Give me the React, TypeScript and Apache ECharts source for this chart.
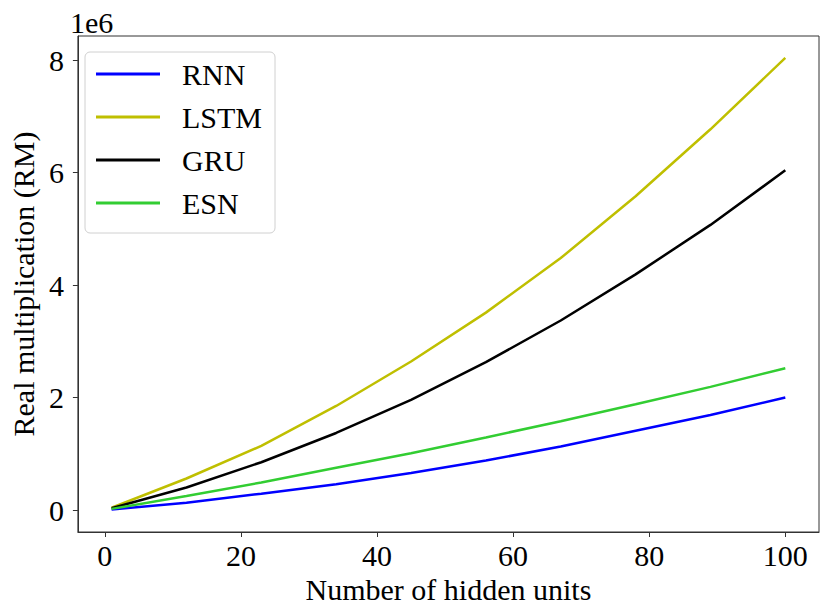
import React, { useEffect, useRef } from "react";
import * as echarts from "echarts";

const hiddenUnits = [1, 12, 23, 34, 45, 56, 67, 78, 89, 100];
const rnnValues = [10000, 130000, 290000, 460000, 660000, 880000, 1130000, 1410000, 1690000, 2000000];
const lstmValues = [40000, 560000, 1140000, 1850000, 2640000, 3510000, 4480000, 5580000, 6770000, 8040000];
const gruValues = [30000, 400000, 850000, 1370000, 1960000, 2630000, 3370000, 4190000, 5070000, 6040000];
const esnValues = [20000, 250000, 490000, 750000, 1010000, 1290000, 1580000, 1880000, 2190000, 2520000];
const xTicks = [0, 20, 40, 60, 80, 100];
const yTicks = [0, 2000000, 4000000, 6000000, 8000000];
const seriesNames = ["RNN", "LSTM", "GRU", "ESN"];
const seriesColors = ["#0000ff", "#bfbf00", "#000000", "#32cd32"];

const FONT = "'Liberation Serif', 'Times New Roman', Times, serif";

export default function App() {
  const ref = useRef<HTMLDivElement>(null);
  useEffect(() => {
    if (!ref.current) return;
    const chart = echarts.init(ref.current, undefined, { renderer: "svg" });
    const all = [rnnValues, lstmValues, gruValues, esnValues];
    const option: any = {
      animation: false,
      backgroundColor: "#ffffff",
      textStyle: { fontFamily: FONT },
      grid: {
        left: 70,
        top: 36,
        width: 749,
        height: 496,
        show: true,
        borderColor: "#333333",
        borderWidth: 1,
        backgroundColor: "transparent",
        containLabel: false,
      },
      xAxis: {
        type: "value",
        min: -3.95,
        max: 104.95,
        name: "Number of hidden units",
        nameLocation: "middle",
        nameGap: 40,
        nameTextStyle: { fontFamily: FONT, fontSize: 30, color: "#000" },
        axisLine: { show: true, onZero: false, lineStyle: { color: "#333333", width: 1 } },
        splitLine: { show: false },
        axisTick: {
          show: true,
          inside: false,
          customValues: xTicks,
          length: 5,
          lineStyle: { color: "#333333", width: 1 },
        },
        axisLabel: {
          customValues: xTicks,
          fontFamily: FONT,
          fontSize: 30,
          color: "#000",
          margin: 8,
        },
      },
      yAxis: {
        type: "value",
        min: -391000,
        max: 8429000,
        name: "Real multiplication (RM)",
        nameLocation: "middle",
        nameGap: 34,
        nameTextStyle: { fontFamily: FONT, fontSize: 30, color: "#000" },
        axisLine: { show: true, onZero: false, lineStyle: { color: "#333333", width: 1 } },
        splitLine: { show: false },
        axisTick: {
          show: true,
          inside: false,
          customValues: yTicks,
          length: 5,
          lineStyle: { color: "#333333", width: 1 },
        },
        axisLabel: {
          customValues: yTicks,
          fontFamily: FONT,
          fontSize: 30,
          color: "#000",
          margin: 14,
          formatter: (v: number) => String(Math.round(v / 1000000)),
        },
      },
      legend: {
        show: true,
        orient: "vertical",
        left: 85,
        top: 52,
        data: seriesNames,
        icon: "rect",
        itemWidth: 64,
        itemHeight: 3,
        itemGap: 11,
        padding: [6, 13, 14, 11],
        backgroundColor: "#ffffff",
        borderColor: "#d0d0d0",
        borderWidth: 1,
        borderRadius: 5,
        textStyle: {
          fontFamily: FONT,
          fontSize: 30,
          color: "#000",
          lineHeight: 32,
          padding: [0, 0, 0, 17],
        },
      },
      graphic: [
        {
          type: "text",
          left: 70,
          top: 7,
          style: { text: "1e6", font: `30px ${FONT}`, fill: "#000" },
        },
      ],
      series: seriesNames.map((name, k) => ({
        name,
        type: "line",
        data: hiddenUnits.map((x, i) => [x, all[k][i]]),
        showSymbol: false,
        symbol: "none",
        lineStyle: { color: seriesColors[k], width: 2.5 },
        itemStyle: { color: seriesColors[k] },
      })),
    };
    chart.setOption(option);
    return () => chart.dispose();
  }, []);
  return (
    <div
      ref={ref}
      style={{ position: "fixed", left: 0, top: 0, width: 830, height: 614 }}
    />
  );
}
